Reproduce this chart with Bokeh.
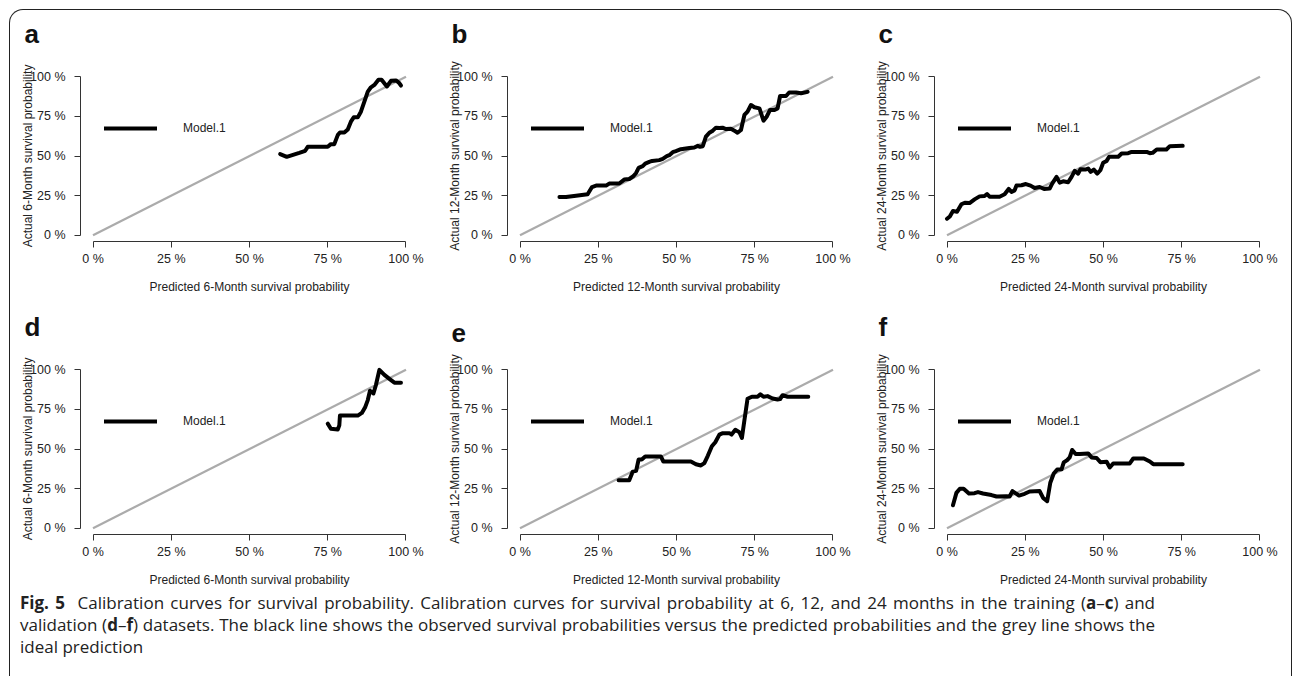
from bokeh.plotting import figure
from bokeh.layouts import column, row
from bokeh.models import Range1d, FixedTicker, Legend, LegendItem, Div
from bokeh.embed import file_html
from bokeh.resources import INLINE

FONT = "Liberation Sans"

tick_values = [0.0, 0.25, 0.5, 0.75, 1.0]
tick_labels = ["0 %", "25 %", "50 %", "75 %", "100 %"]
panel_letters = ["a", "b", "c", "d", "e", "f"]
horizons = ["6", "12", "24", "6", "12", "24"]
legend_label = "Model.1"
ideal_x = [0.0, 1.0]
ideal_y = [0.0, 1.0]

a_x = [0.598, 0.619, 0.659, 0.678, 0.686, 0.750, 0.760, 0.771, 0.782, 0.789, 0.803, 0.814, 0.824, 0.833,
       0.846, 0.856, 0.867, 0.878, 0.888, 0.899, 0.912, 0.922, 0.939, 0.952, 0.968, 0.977, 0.984]
a_y = [0.512, 0.495, 0.520, 0.533, 0.558, 0.558, 0.575, 0.575, 0.632, 0.649, 0.649, 0.668, 0.717, 0.744,
       0.744, 0.780, 0.844, 0.907, 0.934, 0.949, 0.981, 0.981, 0.939, 0.975, 0.977, 0.964, 0.945]

b_x = [0.126, 0.147, 0.179, 0.216, 0.230, 0.243, 0.275, 0.285, 0.317, 0.333, 0.349, 0.362, 0.371, 0.379,
       0.392, 0.400, 0.413, 0.422, 0.445, 0.456, 0.469, 0.477, 0.488, 0.498, 0.514, 0.541, 0.557, 0.568,
       0.575, 0.584, 0.594, 0.605, 0.616, 0.626, 0.637, 0.647, 0.658, 0.674, 0.685, 0.695, 0.706, 0.717,
       0.727, 0.738, 0.749, 0.765, 0.778, 0.788, 0.799, 0.813, 0.823, 0.831, 0.850, 0.860, 0.882, 0.898, 0.919]
b_y = [0.241, 0.241, 0.249, 0.258, 0.304, 0.313, 0.313, 0.326, 0.326, 0.351, 0.355, 0.372, 0.393, 0.425,
       0.436, 0.452, 0.463, 0.469, 0.474, 0.482, 0.499, 0.505, 0.524, 0.531, 0.543, 0.550, 0.554, 0.564,
       0.558, 0.562, 0.622, 0.647, 0.660, 0.679, 0.677, 0.679, 0.670, 0.672, 0.660, 0.647, 0.664, 0.759,
       0.780, 0.822, 0.808, 0.801, 0.723, 0.748, 0.791, 0.791, 0.801, 0.879, 0.879, 0.901, 0.901, 0.896, 0.905]

c_x = [0.000, 0.009, 0.019, 0.032, 0.046, 0.057, 0.072, 0.088, 0.104, 0.120, 0.128, 0.136, 0.168, 0.184,
       0.197, 0.206, 0.216, 0.222, 0.238, 0.252, 0.267, 0.280, 0.296, 0.310, 0.328, 0.336, 0.350, 0.360,
       0.371, 0.387, 0.398, 0.408, 0.419, 0.426, 0.442, 0.451, 0.459, 0.469, 0.480, 0.490, 0.499, 0.510,
       0.518, 0.547, 0.558, 0.579, 0.590, 0.638, 0.648, 0.657, 0.670, 0.701, 0.712, 0.753]
c_y = [0.104, 0.118, 0.152, 0.148, 0.195, 0.205, 0.203, 0.226, 0.245, 0.247, 0.260, 0.243, 0.243, 0.258,
       0.292, 0.273, 0.283, 0.313, 0.315, 0.323, 0.313, 0.298, 0.304, 0.292, 0.294, 0.326, 0.368, 0.332,
       0.340, 0.334, 0.368, 0.406, 0.389, 0.416, 0.414, 0.421, 0.400, 0.414, 0.389, 0.410, 0.457, 0.469,
       0.495, 0.495, 0.516, 0.518, 0.526, 0.526, 0.518, 0.520, 0.541, 0.541, 0.562, 0.564]

d_x = [0.750, 0.760, 0.782, 0.787, 0.789, 0.846, 0.859, 0.870, 0.878, 0.885, 0.896, 0.904, 0.915, 0.931,
       0.947, 0.963, 0.984]
d_y = [0.660, 0.628, 0.623, 0.649, 0.711, 0.711, 0.728, 0.766, 0.809, 0.868, 0.851, 0.904, 1.000, 0.968,
       0.943, 0.919, 0.919]

e_x = [0.315, 0.349, 0.360, 0.371, 0.379, 0.389, 0.400, 0.450, 0.458, 0.546, 0.562, 0.578, 0.589, 0.600,
       0.613, 0.624, 0.637, 0.648, 0.669, 0.676, 0.688, 0.701, 0.709, 0.717, 0.727, 0.741, 0.759, 0.768,
       0.778, 0.791, 0.807, 0.823, 0.831, 0.839, 0.855, 0.921]
e_y = [0.302, 0.302, 0.357, 0.362, 0.434, 0.434, 0.453, 0.453, 0.421, 0.421, 0.404, 0.396, 0.411, 0.457,
       0.517, 0.543, 0.591, 0.600, 0.600, 0.591, 0.621, 0.606, 0.570, 0.681, 0.817, 0.830, 0.830, 0.845,
       0.830, 0.834, 0.819, 0.813, 0.815, 0.840, 0.830, 0.830]

f_x = [0.019, 0.030, 0.041, 0.053, 0.070, 0.088, 0.099, 0.115, 0.142, 0.158, 0.190, 0.200, 0.209, 0.230,
       0.248, 0.264, 0.296, 0.307, 0.320, 0.330, 0.341, 0.352, 0.366, 0.373, 0.384, 0.392, 0.400, 0.411,
       0.424, 0.451, 0.462, 0.478, 0.490, 0.510, 0.520, 0.531, 0.584, 0.595, 0.629, 0.648, 0.659, 0.753]
f_y = [0.145, 0.223, 0.249, 0.249, 0.219, 0.221, 0.228, 0.219, 0.209, 0.200, 0.202, 0.200, 0.234, 0.206,
       0.217, 0.232, 0.234, 0.191, 0.170, 0.287, 0.345, 0.370, 0.372, 0.415, 0.430, 0.447, 0.494, 0.468,
       0.468, 0.472, 0.447, 0.443, 0.417, 0.419, 0.383, 0.409, 0.409, 0.440, 0.440, 0.421, 0.404, 0.404]

curves = [(a_x, a_y), (b_x, b_y), (c_x, c_y), (d_x, d_y), (e_x, e_y), (f_x, f_y)]

caption_lines = [
    "<b>Fig.&nbsp;5</b>&nbsp;&nbsp;Calibration curves for survival probability. Calibration curves for "
    "survival probability at 6, 12, and 24 months in the training (<b>a</b>&ndash;<b>c</b>) and",
    "validation (<b>d</b>&ndash;<b>f</b>) datasets. The black line shows the observed survival probabilities "
    "versus the predicted probabilities and the grey line shows the",
    "ideal prediction",
]

JUST = "width:1135px;text-align:justify;text-align-last:justify;white-space:normal"
caption_html = (
    f'<div style="{JUST}">{caption_lines[0]}</div>'
    f'<div style="{JUST}">{caption_lines[1]}</div>'
    f'<div style="width:1135px;text-align:left">{caption_lines[2]}</div>'
)

EXTRA_TOP = 16


def make_panel(letter, horizon, xs, ys, h, mbb):
    p = figure(width=427, height=h + EXTRA_TOP, x_range=Range1d(-0.04, 1.04), y_range=Range1d(-0.04, 1.04),
               output_backend="svg", toolbar_location=None,
               min_border_left=70, min_border_right=19, min_border_top=60 + EXTRA_TOP,
               min_border_bottom=mbb, title=letter)
    p.grid.visible = False
    p.outline_line_color = None
    p.background_fill_color = "white"
    p.border_fill_color = None
    p.title.text_font = FONT
    p.title.text_font_size = "26px"
    p.title.text_font_style = "bold"
    p.title.text_color = "#111111"
    p.title.align = "left"
    p.title.offset = -56
    p.title.standoff = 44

    p.line(ideal_x, ideal_y, line_color="#ababab", line_width=2.2)
    r = p.line(xs, ys, line_color="black", line_width=4, line_join="round", line_cap="round")

    for ax in (p.xaxis[0], p.yaxis[0]):
        ax.ticker = FixedTicker(ticks=tick_values)
        ax.major_label_overrides = {v: l for v, l in zip(tick_values, tick_labels)}
        ax.bounds = (0, 1)
        ax.minor_tick_line_color = None
        ax.major_tick_out = 6
        ax.major_tick_in = 0
        ax.axis_line_color = "#333333"
        ax.major_tick_line_color = "#333333"
        ax.major_label_text_font = FONT
        ax.major_label_text_font_size = "12.5px"
        ax.major_label_text_color = "#222222"
        ax.axis_label_text_font = FONT
        ax.axis_label_text_font_size = "12px"
        ax.axis_label_text_font_style = "normal"
        ax.axis_label_text_color = "#222222"
    p.xaxis.axis_label = f"Predicted {horizon}-Month survival probability"
    p.yaxis.axis_label = f"Actual {horizon}-Month survival probability"
    p.xaxis.major_label_standoff = 4
    p.xaxis.axis_label_standoff = 11
    p.yaxis.major_label_standoff = 9
    p.yaxis.axis_label_standoff = -8

    legend = Legend(items=[LegendItem(label=legend_label, renderers=[r])], location=(24, 103),
                    glyph_width=53, glyph_height=20, label_standoff=26, padding=0, margin=0,
                    spacing=0, border_line_color=None, background_fill_alpha=0,
                    label_text_font=FONT, label_text_font_size="12px", label_text_color="#222222")
    p.add_layout(legend)
    return p


panels = []
for i in range(6):
    h = 293 if i < 3 else 288
    mbb = 62 if i < 3 else 57
    panels.append(make_panel(panel_letters[i], horizons[i], curves[i][0], curves[i][1], h, mbb))

caption = Div(text=caption_html, width=1281, height=84, margin=(1, 0, 0, 0),
              styles={"font-family": "'Open Sans'", "font-size": "17px", "line-height": "21.8px",
                      "color": "#222222", "padding-left": "10px"})

row1 = row(*panels[:3], margin=(-EXTRA_TOP, 0, 0, 0))
row2 = row(*panels[3:], margin=(-EXTRA_TOP, 0, 0, 0))

layout = column(row1, row2, caption, margin=(9, 0, 0, 9),
                styles={"border": "1.3px solid #222222", "border-bottom": "none",
                        "border-radius": "14px 14px 0 0", "background-color": "white"})

open("out.html", "w").write(file_html(layout, INLINE))
